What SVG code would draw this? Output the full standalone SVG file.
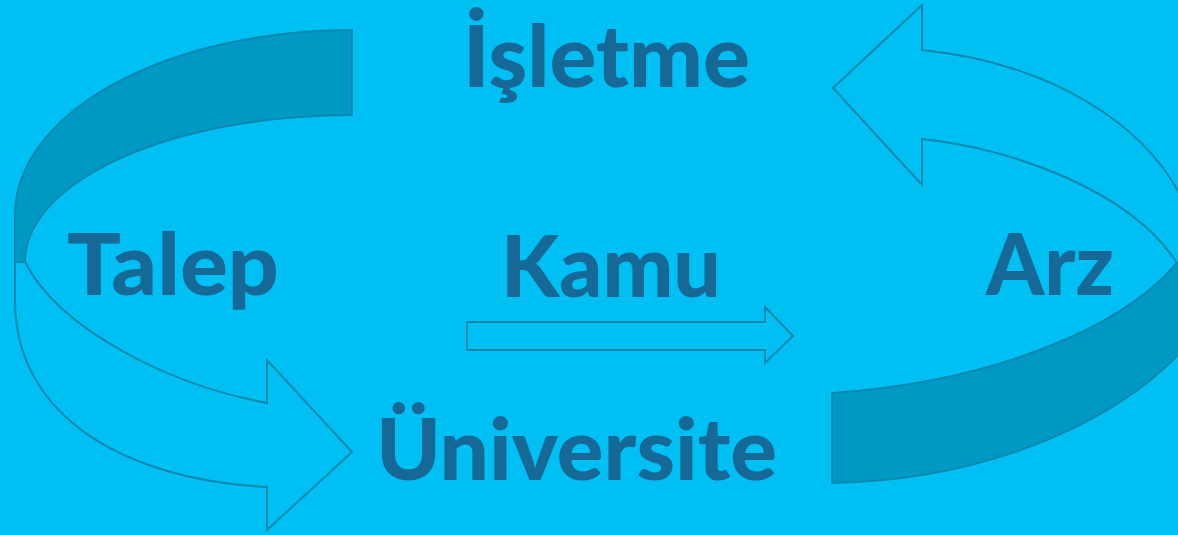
<svg xmlns="http://www.w3.org/2000/svg" width="1178" height="535" viewBox="0 0 1178 535">
  <style>
    .lbl { font-family: Lato, "Open Sans", "Liberation Sans", sans-serif; font-weight: 900; font-size: 86px; fill: #166896; }
    .back { fill: #0099c3; stroke: #0a88ae; stroke-width: 2; stroke-linejoin: miter; }
    .front { fill: #00bff3; stroke: #0a88ae; stroke-width: 2; stroke-linejoin: miter; }
  </style>
  <rect x="0" y="0" width="1178" height="535" fill="#00bff3"/>
  <g id="connectors">
    <g id="left-curved-arrow">
      <path class="back" d="M352,30 A337,185 0 0 0 15,215 L15,262 L25,262 A327,147 0 0 1 352,115 Z"/>
      <path class="front" d="M25,262 C60,330 170,385 267,403 L267,360 L352,452 L267,530 L267,487 C130,480 15,420 15,300 L15,262 Z"/>
    </g>
    <g id="right-curved-arrow">
      <path class="back" d="M1177,263 C1120,330 990,382 832,393 L832,483 C990,480 1130,420 1200,330 L1200,263 Z"/>
      <path class="front" d="M833,88 L922,5 L922,50 C1040,62 1160,120 1195,230 L1195,263 L1177,263 C1130,190 1010,148 922,139 L922,185 Z"/>
    </g>
    <g id="kamu-arrow">
      <path class="front" d="M467,322 L765,322 L765,307 L793,336 L765,363 L765,350 L467,350 Z"/>
    </g>
  </g>
  <g id="node-isletme"><text class="lbl" x="463" y="87" textLength="287" lengthAdjust="spacingAndGlyphs">İşletme</text></g>
  <g id="node-talep"><text class="lbl" x="67" y="295" textLength="212" lengthAdjust="spacingAndGlyphs">Talep</text></g>
  <g id="node-kamu"><text class="lbl" x="501" y="297" textLength="220" lengthAdjust="spacingAndGlyphs">Kamu</text></g>
  <g id="node-arz"><text class="lbl" x="986" y="295" textLength="128" lengthAdjust="spacingAndGlyphs">Arz</text></g>
  <g id="node-universite"><text class="lbl" x="376" y="480" textLength="401" lengthAdjust="spacingAndGlyphs">Üniversite</text></g>
</svg>
